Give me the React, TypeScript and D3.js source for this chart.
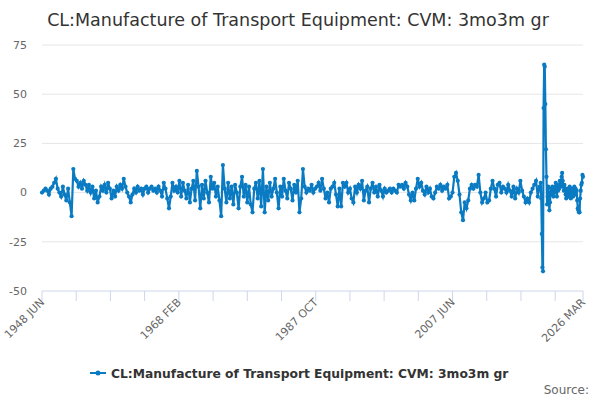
import React from "react";
import * as d3 from "d3";

// Quarterly readings (Mar, Jun, Sep, Dec), 1948 JUN .. 2019 DEC
const quarterlyStart = "1948-06";
const quarterlyValues: number[] = [
  0, 1, 2,
  1, -1, 2, 3,
  5, 7, 2, 0,
  -2, 3, -1, -4,
  2, -5, -12, 12,
  7, 6, 3, 5,
  2, 6, 4, 1,
  4, 0, 3, -3,
  1, -5, -2, 3,
  1, 4, 0, 5,
  2, -3, 1, -2,
  3, 1, 4, 2,
  7, 3, 0, -2,
  -5, -1, 2, 0,
  3, 1, 2, -1,
  2, 3, 0, 2,
  3, 1, 2, 0,
  3, 1, -2, 5,
  2, -3, -8, -2,
  5, 1, 3, 0,
  6, -2, 5, 1,
  -3, 4, -5, 2,
  6, -4, 11, 3,
  -8, 4, -3, 6,
  0, -5, 8, 2,
  5, -2, 3, -4,
  -12, 14, 2, -5,
  5, -3, 3, -6,
  4, 0, -8, 3,
  8, -2, 4, -5,
  3, -6, -10, 2,
  5, -3, 6, -7,
  12, -10, 3, -4,
  5, -2, 2, 7,
  0, -8, 3, -2,
  7, 1, -3, 5,
  2, -4, 4, 0,
  6, -10, -3, 12,
  3, 0, 2, 1,
  4, 0, 2, 3,
  5, 1, 7, 2,
  -3, 0, -5, 2,
  3, 5, -1, -7,
  2, -7, 5, 3,
  5, 0, 2, -3,
  -5, 3, 0, 4,
  2, 6, -4, 1,
  3, -5, 2, 5,
  0, 3, -2, 4,
  1, -2, 2, 0,
  1, 2, 0, 2,
  1, 0, 4, 3,
  4, 2, 5, 3,
  -1, -4, 0, -4,
  2, 7, 3, 5,
  1, -1, 3, 0,
  2, -2, -3, 0,
  3, 2, 4, 1,
  3, 2, 4, -3,
  -2, 0, 8, 10,
  6, -1, -10, -14,
  -5, -8, -4, 2,
  4, 2, 4, 3,
  9, 0, -5, -3,
  0, -5, -4, 2,
  6, 2, -2, 4,
  5, 0, 3, 2,
  0, 4, 1, -2,
  3, -3, 2, 0,
  6, 1, -2, -5,
  -3, -5, 0, 2,
  4, 6, -2, 3,
];

// Monthly readings, 2020 JAN .. 2026 MAR
const monthlyStart = "2020-01";
const monthlyValues: number[] = [
  2, 5, -3, -21, -38, -40, 43, 65, 64, 45, 22, 8,
  -6, -2, 3, -4, -9, -5, 0, 2, -1, 3, 1, -2,
  2, 0, 3, 5, 1, -2, 3, 1, 4, 2, 6, 3,
  5, 8, 10, 6, 3, 1, 4, 2, -1, -3, -1, 2,
  0, -2, 1, 3, 0, -3, -1, 2, 0, -2, 1, 3,
  0, 2, -1, 1, -4, -8, -9, -10, -10, -3, 1, 4,
  5, 9, 8,
];

const xTickDates = [
  "1948-06", "1953-05", "1958-04", "1963-03", "1968-02", "1973-01",
  "1977-12", "1982-11", "1987-10", "1992-09", "1997-08", "2002-07",
  "2007-06", "2012-05", "2017-04", "2022-03", "2026-03",
];
const xTickLabels = ["1948 JUN", "1968 FEB", "1987 OCT", "2007 JUN", "2026 MAR"];
const yTicks = [-50, -25, 0, 25, 50, 75];

const title = "CL:Manufacture of Transport Equipment: CVM: 3mo3m gr";
const color = "#0a7bc2";
const font = "'DejaVu Sans', Verdana, sans-serif";

const parseMonth = d3.timeParse("%Y-%m");
const fmtLabel = (d: Date) => d3.timeFormat("%Y %b")(d).toUpperCase();

interface Point {
  date: Date;
  value: number;
}

const data: Point[] = [
  ...quarterlyValues.map((v, i) => ({
    date: d3.timeMonth.offset(parseMonth(quarterlyStart)!, i * 3),
    value: v,
  })),
  ...monthlyValues.map((v, i) => ({
    date: d3.timeMonth.offset(parseMonth(monthlyStart)!, i),
    value: v,
  })),
];

const App: React.FC = () => {
  const width = 600;
  const height = 400;
  const margin = { top: 45, right: 17, bottom: 109, left: 42 };

  const x = d3
    .scaleTime()
    .domain([parseMonth("1948-06")!, parseMonth("2026-03")!])
    .range([margin.left, width - margin.right]);
  const y = d3
    .scaleLinear()
    .domain([-50, 75])
    .range([height - margin.bottom, margin.top]);

  const line = d3
    .line<Point>()
    .x((d) => x(d.date))
    .y((d) => y(d.value));

  const ticks = xTickDates.map((s) => parseMonth(s)!);
  const axisY = height - margin.bottom;

  return (
    <div style={{ position: "absolute", left: 0, top: 0 }}>
      <svg width={width} height={height} style={{ fontFamily: font, display: "block" }}>
        <rect width={width} height={height} fill="#ffffff" />
        <text x={298} y={26} textAnchor="middle" fontSize={17.5} fill="#333333">
          {title}
        </text>

        {/* y grid and labels */}
        {yTicks.map((t) => (
          <g key={t}>
            {t !== -50 && (
              <line
                x1={margin.left}
                x2={width - margin.right}
                y1={y(t)}
                y2={y(t)}
                stroke="#e6e6e6"
              />
            )}
            <text x={27} y={y(t)} dy="0.35em" textAnchor="end" fontSize={11} fill="#666666">
              {t}
            </text>
          </g>
        ))}

        {/* x axis */}
        <line x1={margin.left} x2={width - margin.right} y1={axisY} y2={axisY} stroke="#ccd6eb" />
        {ticks.map((d, i) => (
          <line key={i} x1={x(d)} x2={x(d)} y1={axisY} y2={axisY + 10} stroke="#ccd6eb" />
        ))}
        {ticks
          .filter((d) => xTickLabels.includes(fmtLabel(d)))
          .map((d, i) => (
            <text
              key={i}
              transform={`translate(${x(d) + 3},${axisY + 12}) rotate(-45)`}
              textAnchor="end"
              fontSize={11}
              fill="#666666"
            >
              {fmtLabel(d)}
            </text>
          ))}

        {/* series */}
        <path d={line(data) ?? ""} fill="none" stroke={color} strokeWidth={2.2} />
        {data.map((d, i) => (
          <circle key={i} cx={x(d.date)} cy={y(d.value)} r={2.1} fill={color} />
        ))}

        {/* legend */}
        <line x1={90} x2={106} y1={373} y2={373} stroke={color} strokeWidth={2} />
        <circle cx={98} cy={373} r={2.5} fill={color} />
        <text x={111} y={377.5} fontSize={12.3} fontWeight="bold" fill="#333333">
          {title}
        </text>

        <text x={589} y={394} textAnchor="end" fontSize={12} fill="#666666">
          Source:
        </text>
      </svg>
    </div>
  );
};

export default App;
